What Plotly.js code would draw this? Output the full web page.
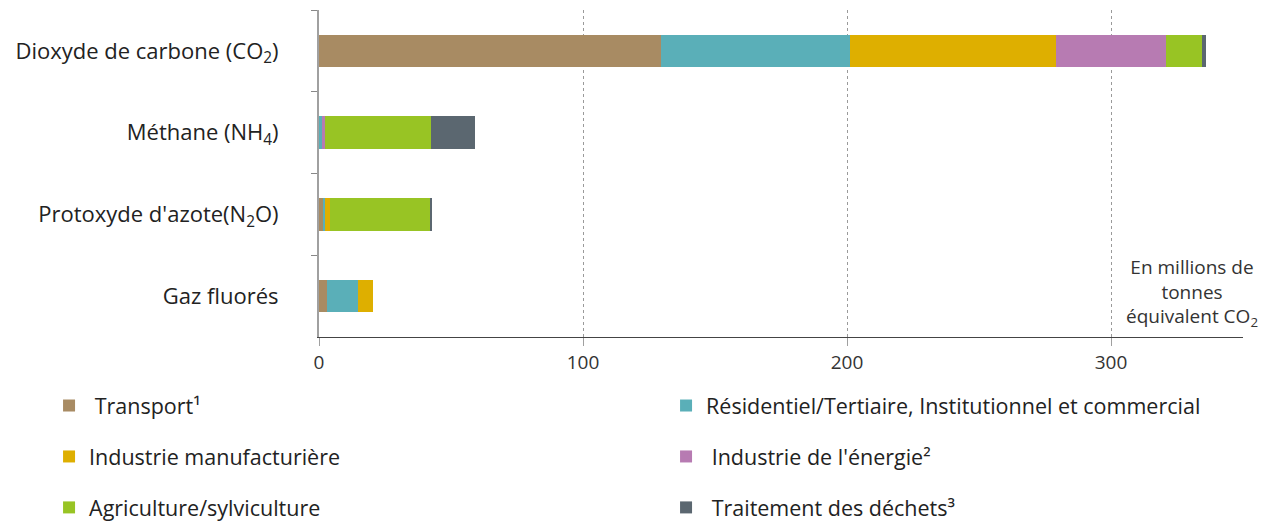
<!DOCTYPE html>
<html>
<head>
<meta charset="utf-8">
<script src="https://cdn.plot.ly/plotly-3.0.1.min.js"></script>
<style>body{margin:0;background:#fff}#chart{width:1274px;height:526px}</style>
</head>
<body>
<div id="chart"></div>
<script>
const categories = [
  "Dioxyde de carbone (CO<sub>2</sub>)",
  "Méthane (NH<sub>4</sub>)",
  "Protoxyde d'azote(N<sub>2</sub>O)",
  "Gaz fluorés"
];
const sectors = [
  "\u00a0Transport¹",
  "Résidentiel/Tertiaire, Institutionnel et commercial",
  "Industrie manufacturière",
  "\u00a0Industrie de l'énergie²",
  "Agriculture/sylviculture",
  "\u00a0Traitement des déchets³"
];
const transport     = [129.5, 0,   1.7, 3.0];
const residentiel   = [71.5,  1.3, 0.5, 11.6];
const industrieManu = [78.0,  0,   1.8, 5.8];
const energie       = [42.0,  1.0, 0,   0];
const agriculture   = [13.5,  40.2, 37.9, 0];
const dechets       = [1.5,   16.7, 1.0, 0];
const colors = ["#A88B63", "#5AAFB8", "#DEAF00", "#B77BB2", "#98C424", "#5B6770"];
const legendIds = ["legend", "legend2", "legend", "legend2", "legend", "legend2"];
const xTicks = [0, 100, 200, 300];

const series = [transport, residentiel, industrieManu, energie, agriculture, dechets];
const font = "Open Sans, sans-serif";

const traces = series.map((vals, i) => ({
  type: "bar",
  orientation: "h",
  name: sectors[i],
  x: vals,
  y: categories,
  marker: {color: colors[i], line: {width: 0}},
  legend: legendIds[i],
  legendgroup: "g" + i,
  hoverinfo: "x+name"
}));

const legendCommon = {
  yref: "container", xref: "container",
  y: 0.268, yanchor: "top", xanchor: "left",
  orientation: "v", tracegroupgap: 20,
  font: {family: font, size: 21.5, color: "#222"},
  bgcolor: "rgba(0,0,0,0)"
};

const layout = {
  width: 1274, height: 526,
  margin: {l: 319, r: 31, t: 10, b: 189, autoexpand: false},
  paper_bgcolor: "#fff", plot_bgcolor: "#fff",
  barmode: "stack",
  bargap: 0.6,
  font: {family: font, color: "#222"},
  xaxis: {
    range: [0, 350],
    tickvals: xTicks,
    ticktext: xTicks.map(String),
    showgrid: true, gridcolor: "#9a9a9a", griddash: "dot", gridwidth: 1,
    showline: true, linecolor: "#444", linewidth: 1,
    ticks: "outside", ticklen: 8, tickcolor: "#a0a0a0", tickwidth: 1,
    tickfont: {family: font, size: 19, color: "#333"},
    zeroline: false, fixedrange: true, automargin: false
  },
  yaxis: {
    type: "category",
    autorange: "reversed",
    tickson: "boundaries",
    ticks: "outside", ticklen: 6, tickcolor: "#888", tickwidth: 1,
    showline: true, linecolor: "#a0a0a0", linewidth: 2,
    showgrid: false, zeroline: false,
    ticklabelstandoff: 34,
    tickfont: {family: font, size: 22, color: "#222"},
    fixedrange: true, automargin: false
  },
  showlegend: true,
  legend: Object.assign({}, legendCommon, {x: 0.0385}),
  legend2: Object.assign({}, legendCommon, {x: 0.5228}),
  annotations: [{
    xref: "paper", yref: "paper", x: 0.945, y: 0.1376,
    xanchor: "center", yanchor: "middle",
    text: "En millions de<br>tonnes<br>équivalent CO<sub>2</sub>",
    showarrow: false, align: "center",
    font: {family: font, size: 19, color: "#333"}
  }]
};

Plotly.newPlot("chart", traces, layout, {displayModeBar: false, staticPlot: true});
</script>
</body>
</html>
